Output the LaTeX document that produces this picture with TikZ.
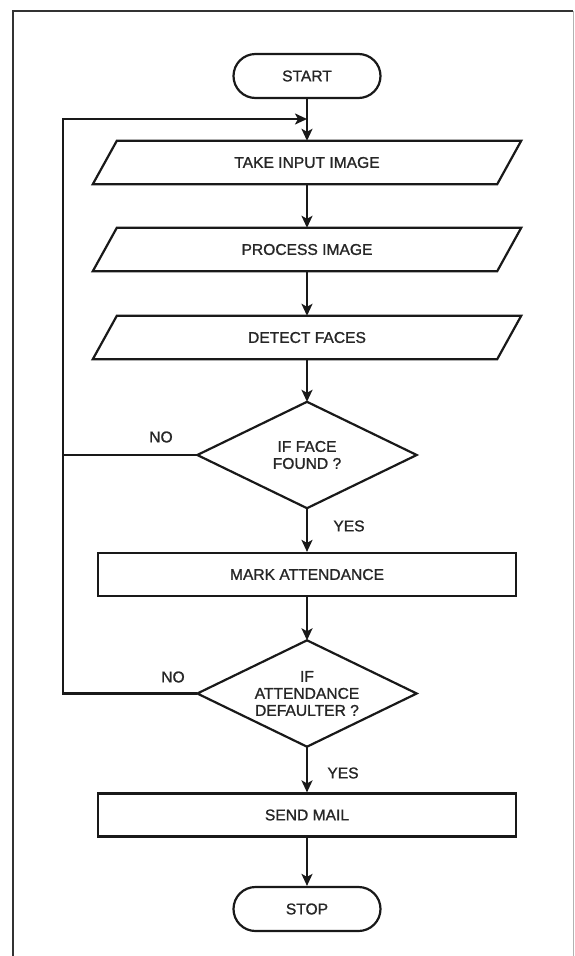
\documentclass[tikz,border=0pt]{standalone}
\usepackage{fontspec}
\setmainfont{Liberation Sans}
\newfontfamily\diafont{Liberation Sans}[FakeBold=1.2]
\usetikzlibrary{arrows.meta}
\begin{document}
\begin{tikzpicture}[x=1pt,y=-1pt,
  every node/.style={font=\diafont\fontsize{15.6}{17}\selectfont, text=black!85},
  shapeline/.style={draw=black!90, line width=2.2pt},
  terminal/.style={shapeline, rectangle, rounded corners=22pt, minimum width=147pt, minimum height=44pt, inner sep=0pt},
  iobox/.style={rectangle, minimum width=404pt, minimum height=43pt, inner sep=0pt},
  procbox/.style={shapeline, rectangle, minimum width=418pt, minimum height=43pt, inner sep=0pt},
  decision/.style={rectangle, minimum width=219pt, minimum height=106pt, inner sep=0pt, align=center},
  flow/.style={draw=black!90, line width=2.2pt, -{Stealth[length=12pt,width=11pt,inset=3pt]}},
  plainline/.style={draw=black!90, line width=2.2pt},
  lbl/.style={inner sep=0pt}
]
\useasboundingbox (0,0) rectangle (574,956);
% frame
\draw[line width=2.2pt, black!80] (13,956) -- (13,11) -- (573,11);
\draw[line width=1pt, black!30] (573,11) -- (573,956);

\node[terminal] (start) at (307,76) {START};
\node[iobox] (in1) at (307,162.5) {TAKE INPUT IMAGE};
\node[iobox] (in2) at (307,249.5) {PROCESS IMAGE};
\node[iobox] (in3) at (307,337.5) {DETECT FACES};
\foreach \n in {in1,in2,in3}{
  \draw[shapeline, line join=miter] ([xshift=12pt]\n.north west) -- ([xshift=12pt]\n.north east)
     -- ([xshift=-12pt]\n.south east) -- ([xshift=-12pt]\n.south west) -- cycle;
}
\node[decision] (d1) at (307,455) {IF FACE\\FOUND ?};
\node[procbox] (mark) at (307,574.5) {MARK ATTENDANCE};
\node[decision] (d2) at (307,693.5) {IF\\ATTENDANCE\\DEFAULTER ?};
\node[procbox] (mail) at (307,815) {SEND MAIL};
\node[terminal] (stop) at (307,909) {STOP};
\foreach \n in {d1,d2}{
  \draw[shapeline, line join=miter] (\n.north) -- (\n.east) -- (\n.south) -- (\n.west) -- cycle;
}

\coordinate (c1) at (63,455);
\coordinate (c2) at (63,693.5);
\coordinate (c0) at (63,119);
\coordinate (j0) at (307,119);

\draw[flow] (start) -- (in1);
\draw[flow] (in1) -- (in2);
\draw[flow] (in2) -- (in3);
\draw[flow] (in3) -- (d1.north);
\draw[flow] (d1.south) -- (mark);
\draw[flow] (mark) -- (d2.north);
\draw[flow] (d2.south) -- (mail);
\draw[flow] (mail) -- (stop);
\draw[flow] (d1.west) -- (c1) -- (c0) -- (j0);
\draw[plainline] (d2.west) -- (c2) -- (c1);

\node[lbl] (no1) at (161,437) {NO};
\node[lbl] (yes1) at (349,526) {YES};
\node[lbl] (no2) at (173,677) {NO};
\node[lbl] (yes2) at (343,773) {YES};
\end{tikzpicture}
\end{document}
